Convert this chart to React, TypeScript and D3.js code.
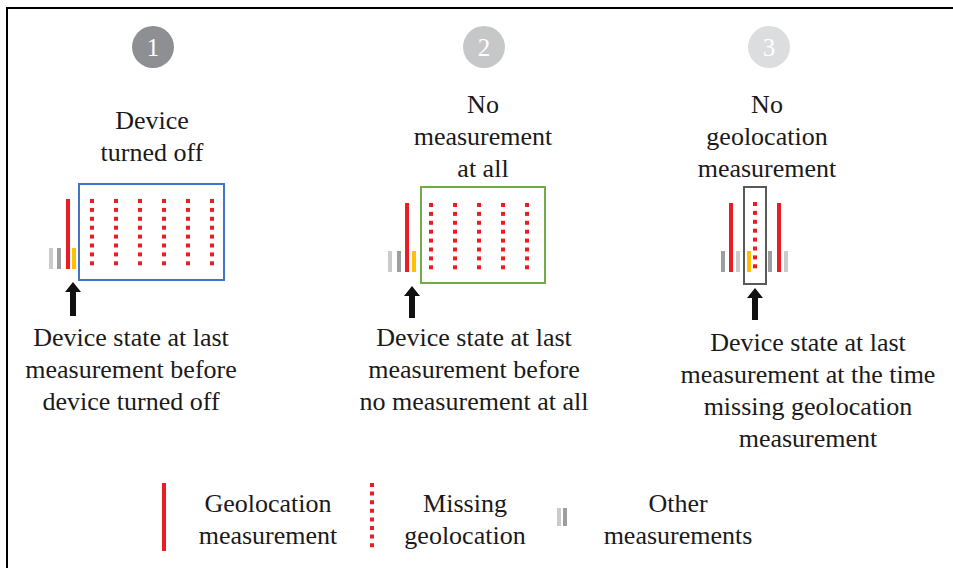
import React from "react";
import * as d3 from "d3";

const W = 953;
const H = 568;

// step circles
const stepLabels = ["1", "2", "3"];
const stepCenters = [153, 484, 769];
const stepColors = ["#8e8f93", "#c6c7c9", "#dcdddf"];

// titles above each diagram
const titleLines = [
  ["Device", "turned off"],
  ["No", "measurement", "at all"],
  ["No", "geolocation", "measurement"],
];
const titleCenters = [152, 483, 767];
const titleTop = [129, 113, 113];

// descriptions below
const descLines = [
  ["Device state at last", "measurement before", "device turned off"],
  ["Device state at last", "measurement before", "no measurement at all"],
  ["Device state at last", "measurement at the time", "missing geolocation", "measurement"],
];
const descCenters = [131, 474, 808];
const descTop = [346, 346, 351];

// bars: [x, kind]
const barsPanel1 = [
  [51, "light"],
  [59, "dark"],
  [68, "red"],
  [74, "yellow"],
];
const barsPanel2 = [
  [390, "light"],
  [399, "dark"],
  [407, "red"],
  [414, "yellow"],
];
const barsPanel3 = [
  [723, "dark"],
  [731, "red"],
  [738, "light"],
  [749, "yellow"],
  [770, "dark"],
  [779, "red"],
  [786, "light"],
];
const barBottom = [269, 272, 272];
const redTop = [199, 203, 203];
const shortTop = [248, 251, 251];

// missing-geolocation dot columns
const dotColumns = [
  [92, 116, 140, 164, 188, 212],
  [431, 455, 479, 503, 527],
  [755],
];
const dotFirst = [201, 205, 204];
const dotCount = 8;
const dotStep = 8.9;

// boxes [x0, y0, x1, y1]
const boxes = [
  [79, 184, 224, 280],
  [421, 187, 545, 283],
  [744, 187, 766, 284],
];
const boxColors = ["#4472c4", "#70ad47", "#595959"];

const arrowX = [73, 412, 755];
const arrowTop = [282, 286, 288];
const arrowBottom = [316, 318, 320];

// legend
const legendLabels = [
  ["Geolocation", "measurement"],
  ["Missing", "geolocation"],
  ["Other", "measurements"],
];
const legendCenters = [268, 465, 678];

const colors: Record<string, string> = {
  light: "#cbcbcb",
  dark: "#9d9ea0",
  red: "#ec1c24",
  yellow: "#ffc000",
};

const FONT = "Liberation Serif, Times New Roman, DejaVu Serif, serif";

function Bars({ bars, p }: { bars: (string | number)[][]; p: number }) {
  return (
    <g>
      {bars.map(([x, k], i) => {
        const top = k === "red" ? redTop[p] : shortTop[p];
        return (
          <rect
            key={i}
            x={(x as number) - 2}
            y={top}
            width={4}
            height={barBottom[p] - top}
            fill={colors[k as string]}
          />
        );
      })}
    </g>
  );
}

function Arrow({ x, y0, y1 }: { x: number; y0: number; y1: number }) {
  const path = d3.path();
  path.moveTo(x, y0);
  path.lineTo(x + 8, y0 + 10);
  path.lineTo(x + 3, y0 + 10);
  path.lineTo(x + 3, y1);
  path.lineTo(x - 3, y1);
  path.lineTo(x - 3, y0 + 10);
  path.lineTo(x - 8, y0 + 10);
  path.closePath();
  return <path d={path.toString()} fill="#111" />;
}

const textStyle: React.CSSProperties = { fontFamily: FONT, fontSize: 26 };

export default function App() {
  const allBars = [barsPanel1, barsPanel2, barsPanel3];
  return (
    <div style={{ position: "absolute", left: 0, top: 0 }}>
      <svg width={W} height={H} style={{ display: "block", background: "#fff" }}>
        {/* frame */}
        <rect x={7} y={8} width={W + 20} height={H + 20} fill="none" stroke="#000" strokeWidth={2} />

        {stepLabels.map((s, i) => (
          <g key={s}>
            <ellipse cx={stepCenters[i]} cy={47} rx={21} ry={21} fill={stepColors[i]} />
            <text
              x={stepCenters[i]}
              y={56}
              textAnchor="middle"
              style={{ fontFamily: FONT, fontSize: 25 }}
              fill="#fff"
            >
              {s}
            </text>
          </g>
        ))}

        {titleLines.map((lines, i) =>
          lines.map((l, j) => (
            <text
              key={`t${i}${j}`}
              x={titleCenters[i]}
              y={titleTop[i] + j * 32}
              textAnchor="middle"
              style={textStyle}
              fill="#1a1a1a"
            >
              {l}
            </text>
          ))
        )}

        {boxes.map((b, i) => (
          <rect
            key={`b${i}`}
            x={b[0]}
            y={b[1]}
            width={b[2] - b[0]}
            height={b[3] - b[1]}
            fill="none"
            stroke={boxColors[i]}
            strokeWidth={2}
          />
        ))}

        {allBars.map((bars, p) => (
          <Bars key={`bars${p}`} bars={bars} p={p} />
        ))}

        {dotColumns.map((cols, p) =>
          cols.map((cx) =>
            d3.range(dotCount).map((k) => (
              <rect
                key={`d${p}-${cx}-${k}`}
                x={cx - 2}
                y={dotFirst[p] + k * dotStep - 2}
                width={4}
                height={4}
                fill={colors.red}
              />
            ))
          )
        )}

        {arrowX.map((x, i) => (
          <Arrow key={`a${i}`} x={x} y0={arrowTop[i]} y1={arrowBottom[i]} />
        ))}

        {descLines.map((lines, i) =>
          lines.map((l, j) => (
            <text
              key={`d${i}${j}`}
              x={descCenters[i]}
              y={descTop[i] + j * 32}
              textAnchor="middle"
              style={textStyle}
              fill="#1a1a1a"
            >
              {l}
            </text>
          ))
        )}

        {/* legend */}
        <line x1={164} x2={164} y1={483} y2={551} stroke={colors.red} strokeWidth={4} />
        <line
          x1={372}
          x2={372}
          y1={483}
          y2={549}
          stroke={colors.red}
          strokeWidth={4}
          strokeDasharray="4 4.6"
        />
        <rect x={557} y={508} width={4} height={18} fill={colors.light} />
        <rect x={563} y={508} width={4} height={18} fill={colors.dark} />
        {legendLabels.map((lines, i) =>
          lines.map((l, j) => (
            <text
              key={`l${i}${j}`}
              x={legendCenters[i]}
              y={512 + j * 32}
              textAnchor="middle"
              style={textStyle}
              fill="#1a1a1a"
            >
              {l}
            </text>
          ))
        )}
      </svg>
    </div>
  );
}
